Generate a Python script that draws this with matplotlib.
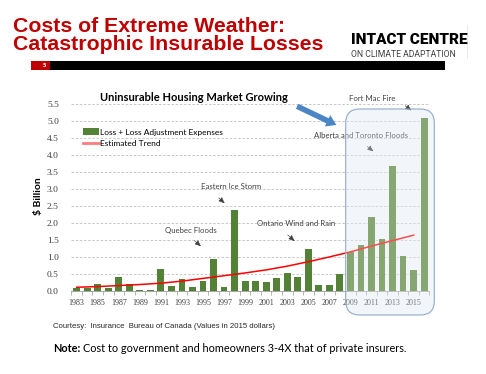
import numpy as np
import matplotlib
matplotlib.use('Agg')
import matplotlib.pyplot as plt
from matplotlib.patches import Patch, FancyBboxPatch, Rectangle
from matplotlib.lines import Line2D
from matplotlib.transforms import IdentityTransform

# 数据：加拿大巨灾可保损失（十亿加元，2015年价格）
years = list(range(1983, 2017))
losses = [0.09, 0.09, 0.20, 0.10, 0.40, 0.20, 0.03, 0.03, 0.64, 0.16,
          0.34, 0.12, 0.30, 0.95, 0.12, 2.38, 0.30, 0.29, 0.27, 0.39,
          0.53, 0.40, 1.24, 0.19, 0.19, 0.50, 1.14, 1.34, 2.16, 1.54,
          3.66, 1.04, 0.61, 5.08]

trend_years = [1983, 1985, 1987, 1989, 1991, 1993, 1995, 1997, 1999,
               2001, 2003, 2005, 2007, 2009, 2011, 2013, 2015]
trend_values = [0.11, 0.13, 0.16, 0.19, 0.23, 0.29, 0.37, 0.45, 0.53,
                0.62, 0.73, 0.86, 1.00, 1.15, 1.32, 1.48, 1.64]

yticks = [0.0, 0.5, 1.0, 1.5, 2.0, 2.5, 3.0, 3.5, 4.0, 4.5, 5.0, 5.5]
xtick_years = list(range(1983, 2016, 2))

# 事件标注：文字, 文字位置(年, 值), 箭头起点, 箭头终点
events = [
    ('Quebec Floods', (1993.8, 1.79), (1994.0, 1.53), (1995.0, 1.26)),
    ('Eastern Ice Storm', (1997.7, 3.06), (1996.3, 2.79), (1997.25, 2.52)),
    ('Ontario Wind and Rain', (2003.8, 1.99), (2002.85, 1.70), (2003.9, 1.41)),
    ('Alberta and Toronto Floods', (2010.0, 4.56), (2010.4, 4.29), (2011.4, 4.05)),
    ('Fort Mac Fire', (2011.1, 5.64), (2014.0, 5.49), (2015.0, 5.25)),
]

W, H = 486, 374
fig = plt.figure(figsize=(W / 100, H / 100), dpi=100)


def fpos(x, y):
    """像素坐标 -> 图坐标"""
    return x / W, 1 - y / H


# 标题
red = '#C00000'
fig.text(*fpos(13, 31.7), 'Costs of Extreme Weather:', color=red, fontsize=15.3,
         fontweight='bold', family='Liberation Sans', va='baseline')
fig.text(*fpos(13, 49.5), 'Catastrophic Insurable Losses', color=red, fontsize=15.3,
         fontweight='bold', family='Liberation Sans', va='baseline')

# 标志
fig.text(*fpos(351, 44), 'INTACT CENTRE', color='black', fontsize=11,
         fontweight='heavy', family='Roboto', va='baseline')
fig.text(*fpos(351, 57), 'ON CLIMATE ADAPTATION', color='#404040', fontsize=6.2,
         family='Roboto', va='baseline')
fig.lines.append(Line2D([467 / W, 467 / W], [1 - 25 / H, 1 - 58 / H],
                        transform=fig.transFigure, color='#E6E6E6', lw=0.6))

# 页码条
fig.patches.append(Rectangle(fpos(31, 70), 19 / W, 9.5 / H, transform=fig.transFigure,
                             facecolor='#C00000', edgecolor='none'))
fig.patches.append(Rectangle(fpos(50, 70), 395 / W, 9.5 / H, transform=fig.transFigure,
                             facecolor='black', edgecolor='none'))
fig.text(*fpos(44, 65.5), '5', color='white', fontsize=3.5, fontweight='bold',
         ha='center', va='center')

# 图表
ax = fig.add_axes([71.4 / W, 1 - 291 / H, 358 / W, (291 - 103.7) / H])
ax.bar(years, losses, width=0.65, color='#538135', zorder=2)
ax.plot(trend_years, trend_values, color='#FF0000', lw=1.1, zorder=3)

ax.set_xlim(1982.5, 2016.5)
ax.set_ylim(0, 5.5)
ax.set_yticks(yticks)
ax.set_yticklabels([f'{v:.1f}' for v in yticks], family='Liberation Serif',
                   fontsize=6.8, color='#404040')
ax.set_xticks(xtick_years)
ax.set_xticklabels([str(y) for y in xtick_years], family='Liberation Serif',
                   fontsize=5.8, color='#404040')
ax.set_xticks(np.arange(1982.5, 2017, 1), minor=True)
ax.tick_params(axis='x', which='major', length=0, pad=6)
ax.tick_params(axis='x', which='minor', length=3, color='#A6A6A6', width=0.6)
ax.tick_params(axis='y', length=0, pad=9)
ax.set_axisbelow(True)
ax.yaxis.grid(True, color='#BFBFBF', lw=0.6, linestyle=(0, (3, 2)))
for s in ['top', 'right', 'left']:
    ax.spines[s].set_visible(False)
ax.spines['bottom'].set_color('#A6A6A6')
ax.spines['bottom'].set_linewidth(0.7)

fig.text(*fpos(39, 196), '$ Billion', rotation=90, fontsize=7.5, fontweight='bold',
         family='Lato', ha='center', va='center')

handles = [Patch(facecolor='#538135', edgecolor='none'),
           Line2D([0], [0], color='#FF7C80', lw=2)]
ax.legend(handles, ['Loss + Loss Adjustment Expenses', 'Estimated Trend'],
          loc='upper left', bbox_to_anchor=(0.02, 0.89), frameon=False,
          prop={'family': 'Lato', 'size': 6.0}, handlelength=2.0,
          handleheight=0.9, handletextpad=0.1, borderpad=0, labelspacing=0.5)

ax.text(1994.1, 5.67, 'Uninsurable Housing Market Growing', fontsize=8,
        fontweight='bold', family='Lato', ha='center', va='center', color='black')
ax.annotate('', xy=(2007.9, 4.84), xytext=(2003.7, 5.46), annotation_clip=False,
            arrowprops=dict(arrowstyle='simple,head_width=0.9,head_length=0.7,tail_width=0.4',
                            color='#4A86C5', lw=0))

for label, tpos, start, end in events:
    ax.text(tpos[0], tpos[1], label, fontsize=5.6, family='Lato', color='#404040',
            ha='center', va='center', zorder=4)
    ax.annotate('', xy=end, xytext=start, annotation_clip=False, zorder=4,
                arrowprops=dict(arrowstyle='-|>,head_width=0.15,head_length=0.35',
                                color='#404040', lw=0.5, linestyle=(0, (2, 1))))

# 高亮框：底色 + 半透明白色覆盖
box_xy, box_w, box_h = (345.7, H - 315), 88.6, 206
ax.add_patch(FancyBboxPatch(box_xy, box_w, box_h, boxstyle='round,pad=0,rounding_size=14',
                            transform=IdentityTransform(), facecolor='#EDF3FA',
                            edgecolor='none', zorder=0.3, clip_on=False))
ax.add_patch(FancyBboxPatch(box_xy, box_w, box_h, boxstyle='round,pad=0,rounding_size=14',
                            transform=IdentityTransform(), facecolor=(1, 1, 1, 0.3),
                            edgecolor='#8FAACB', lw=0.8, zorder=5, clip_on=False))

# 脚注
fig.text(*fpos(53, 327), 'Courtesy:  Insurance  Bureau of Canada (Values in 2015 dollars)',
         fontsize=5.6, family='Liberation Sans', color='#262626', va='center')
fig.text(*fpos(53, 348.5), 'Note:', fontsize=7.8, fontweight='bold', family='Lato',
         va='center')
fig.text(*fpos(82.5, 348.5), 'Cost to government and homeowners 3-4X that of private insurers.',
         fontsize=7.8, family='Lato', va='center')

fig.savefig('out.png', dpi=100)
